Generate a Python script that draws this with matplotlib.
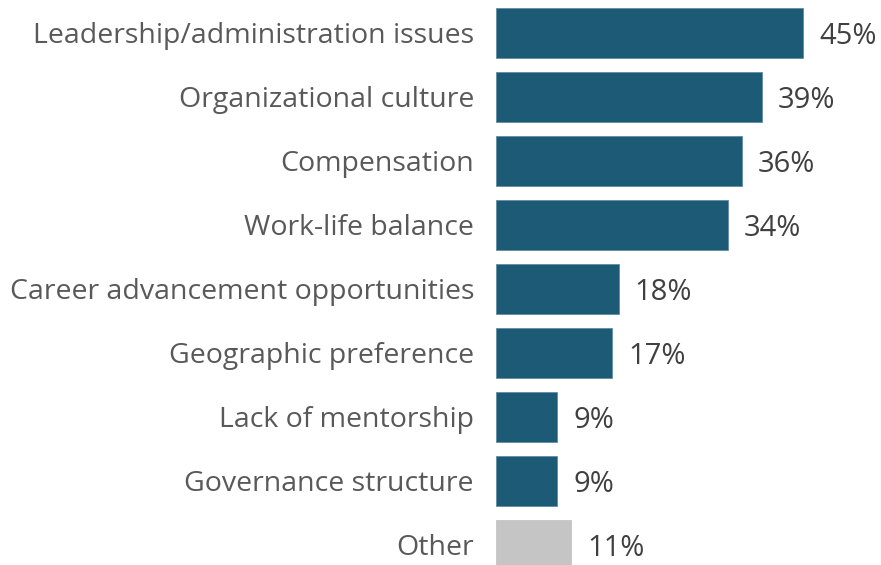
import matplotlib.pyplot as plt

categories = [
    'Leadership/administration issues',
    'Organizational culture',
    'Compensation',
    'Work-life balance',
    'Career advancement opportunities',
    'Geographic preference',
    'Lack of mentorship',
    'Governance structure',
    'Other',
]
values = [45, 39, 36, 34, 18, 17, 9, 9, 11]

plt.rcParams['font.family'] = ['Open Sans', 'DejaVu Sans']

BLUE = '#1d5a75'
GREY = '#c6c5c6'
colors = [BLUE] * (len(values) - 1) + [GREY]

fig = plt.figure(figsize=(8.81, 5.65), dpi=100)
ax = fig.add_axes([496 / 881, 0, 385 / 881, 1])

y = list(range(len(categories)))
bars = ax.barh(y, values, height=0.78, color=colors, edgecolor=colors,
               linewidth=0.6, clip_on=False)
for b, c in zip(bars, colors):
    if c == BLUE:
        b.set_edgecolor('#5f8ea6')

ax.set_xlim(0, 45 * 385 / 307)
ax.set_ylim((565 - 33) / 64, -33 / 64)

for yi, v in zip(y, values):
    ax.annotate(f'{v}%', (v, yi), xytext=(16, -4), textcoords='offset pixels',
                ha='left', va='center', fontsize=21, color='#404040')

for yi, cat in zip(y, categories):
    ax.annotate(cat, (0, yi), xytext=(-22, -3), textcoords='offset pixels',
                ha='right', va='center', fontsize=20.5, color='#595959',
                annotation_clip=False)

ax.axis('off')
fig.savefig('out.png', dpi=100, facecolor='white')
